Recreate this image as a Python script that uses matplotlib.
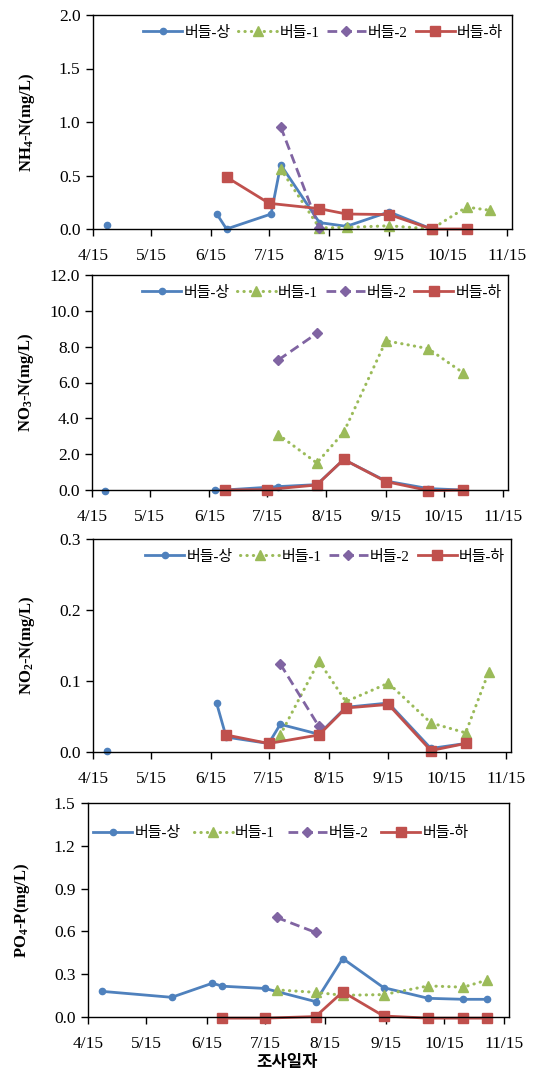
import numpy as np
import matplotlib
matplotlib.use('Agg')
from matplotlib import pyplot as plt
from datetime import datetime

plt.rcParams['font.family'] = ['Liberation Serif', 'Noto Sans CJK KR']
plt.rcParams['mathtext.fontset'] = 'custom'
plt.rcParams['mathtext.rm'] = 'Liberation Serif:bold'
plt.rcParams['mathtext.default'] = 'rm'


def d(s):
    m, dd = s.split('/')
    return datetime(2013, int(m), int(dd))


names = ['버들-상', '버들-1', '버들-2', '버들-하']
ylabels = ['NH$_4$-N(mg/L)', 'NO$_3$-N(mg/L)', 'NO$_2$-N(mg/L)', 'PO$_4$-P(mg/L)']
ymax = [2.0, 12.0, 0.3, 1.5]
ystep = [0.5, 2.0, 0.1, 0.3]
xticks = ['4/15', '5/15', '6/15', '7/15', '8/15', '9/15', '10/15', '11/15']

# NH4-N
nh4_up_x = ['4/22', '5/28', '6/18', '6/23', '7/16', '7/21', '8/10', '8/24', '9/15', '10/7']
nh4_up = [0.04, np.nan, 0.14, 0.0, 0.14, 0.60, 0.06, 0.025, 0.16, 0.0]
nh4_1_x = ['7/21', '8/10', '8/24', '9/15', '10/7', '10/25', '11/6']
nh4_1 = [0.56, 0.01, 0.015, 0.03, 0.0, 0.205, 0.175]
nh4_2_x = ['7/21', '8/10']
nh4_2 = [0.955, 0.005]
nh4_dn_x = ['6/23', '7/15', '8/10', '8/24', '9/15', '10/7', '10/25']
nh4_dn = [0.485, 0.24, 0.19, 0.14, 0.135, 0.0, 0.0]

# NO3-N
no3_up_x = ['4/22', '5/28', '6/18', '6/23', '7/21', '8/10', '8/24', '9/15', '10/7', '10/25']
no3_up = [-0.05, np.nan, 0.0, 0.0, 0.19, 0.3, 1.7, 0.5, 0.08, 0.0]
no3_1_x = ['7/21', '8/10', '8/24', '9/15', '10/7', '10/25']
no3_1 = [3.09, 1.51, 3.22, 8.33, 7.89, 6.55]
no3_2_x = ['7/21', '8/10']
no3_2 = [7.26, 8.74]
no3_dn_x = ['6/23', '7/15', '8/10', '8/24', '9/15', '10/7', '10/25']
no3_dn = [0.0, 0.02, 0.28, 1.71, 0.47, -0.03, 0.0]

# NO2-N
no2_up_x = ['4/22', '5/28', '6/18', '6/23', '7/15', '7/21', '8/10', '8/24', '9/15', '10/7', '10/25']
no2_up = [0.001, np.nan, 0.069, 0.021, 0.012, 0.039, 0.025, 0.063, 0.069, 0.005, 0.012]
no2_1_x = ['7/21', '8/10', '8/24', '9/15', '10/7', '10/25', '11/6']
no2_1 = [0.024, 0.128, 0.071, 0.097, 0.041, 0.027, 0.113]
no2_2_x = ['7/21', '8/10']
no2_2 = [0.124, 0.036]
no2_dn_x = ['6/23', '7/15', '8/10', '8/24', '9/15', '10/7', '10/25']
no2_dn = [0.024, 0.012, 0.024, 0.062, 0.067, 0.002, 0.012]

# PO4-P
po4_up_x = ['4/22', '5/28', '6/18', '6/23', '7/15', '8/10', '8/24', '9/14', '10/7', '10/25', '11/6']
po4_up = [0.18, 0.138, 0.237, 0.216, 0.20, 0.108, 0.41, 0.206, 0.131, 0.124, 0.124]
po4_1_x = ['7/21', '8/10', '8/24', '9/14', '10/7', '10/25', '11/6']
po4_1 = [0.19, 0.173, 0.152, 0.157, 0.218, 0.209, 0.258]
po4_2_x = ['7/21', '8/10']
po4_2 = [0.698, 0.593]
po4_dn_x = ['6/23', '7/15', '8/10', '8/24', '9/14', '10/7', '10/25', '11/6']
po4_dn = [-0.008, -0.008, 0.003, 0.176, 0.007, -0.008, -0.008, -0.008]

panels = [
    [(nh4_up_x, nh4_up), (nh4_1_x, nh4_1), (nh4_2_x, nh4_2), (nh4_dn_x, nh4_dn)],
    [(no3_up_x, no3_up), (no3_1_x, no3_1), (no3_2_x, no3_2), (no3_dn_x, no3_dn)],
    [(no2_up_x, no2_up), (no2_1_x, no2_1), (no2_2_x, no2_2), (no2_dn_x, no2_dn)],
    [(po4_up_x, po4_up), (po4_1_x, po4_1), (po4_2_x, po4_2), (po4_dn_x, po4_dn)],
]

styles = [
    dict(color='#4F81BD', marker='o', ms=4.5, lw=2.0, ls='-'),
    dict(color='#9BBB59', marker='^', ms=7, lw=2.2, ls=(0, (0.1, 2.0)), dash_capstyle='round'),
    dict(color='#8064A2', marker='D', ms=5, lw=2.0, ls=(0, (3.5, 1.8))),
    dict(color='#C0504D', marker='s', ms=6.5, lw=2.0, ls='-'),
]

W, H = 541, 1078
# axes boxes in pixels: left, top, right, bottom
boxes = [(93, 15, 512, 229), (92, 275, 508, 490), (93, 539, 511, 752), (88, 803, 509, 1017)]
leg_anchor = [(0.095, 1.0), (0.095, 1.0), (0.10, 1.0), (-0.012, 0.94)]
leg_colsp = [0.5, 0.5, 0.5, 0.85]

fig = plt.figure(figsize=(W / 100, H / 100), dpi=100)

for i, series in enumerate(panels):
    l, t, r, b = boxes[i]
    ax = fig.add_axes([l / W, 1 - b / H, (r - l) / W, (b - t) / H])
    for (xs, ys), st, nm in zip(series, styles, names):
        ax.plot([d(s) for s in xs], ys, label=nm, clip_on=False, **st)

    ax.set_xlim(d('4/15'), datetime(2013, 11, 17, 12))
    ax.set_xticks([d(s) for s in xticks])
    ax.set_xticklabels(xticks)
    ax.set_ylim(0, ymax[i])
    ax.set_yticks(np.arange(0, ymax[i] + ystep[i] / 2, ystep[i]))
    ax.yaxis.set_major_formatter(plt.FormatStrFormatter('%.1f'))
    ax.tick_params(direction='out', length=5, width=1, labelsize=12.5, colors='black')
    ax.tick_params(axis='x', pad=9)
    ax.tick_params(axis='y', pad=4)
    for sp in ax.spines.values():
        sp.set_linewidth(1.0)
    ax.set_ylabel(ylabels[i], fontsize=12, fontweight='bold')
    ax.yaxis.set_label_coords(-56 / (r - l), 0.5)

    leg = ax.legend(loc='upper left', bbox_to_anchor=leg_anchor[i], ncol=4, frameon=False,
                    handlelength=2.6, handletextpad=0.15, columnspacing=leg_colsp[i],
                    borderaxespad=0.3, prop={'family': ['Liberation Serif', 'Noto Sans CJK KR'], 'size': 10.8})

ax.set_xlabel('조사일자', fontsize=12, fontweight='bold', family=['Noto Sans CJK KR'])
ax.xaxis.set_label_coords(0.473, -0.17)

fig.savefig('out.png', dpi=100)
